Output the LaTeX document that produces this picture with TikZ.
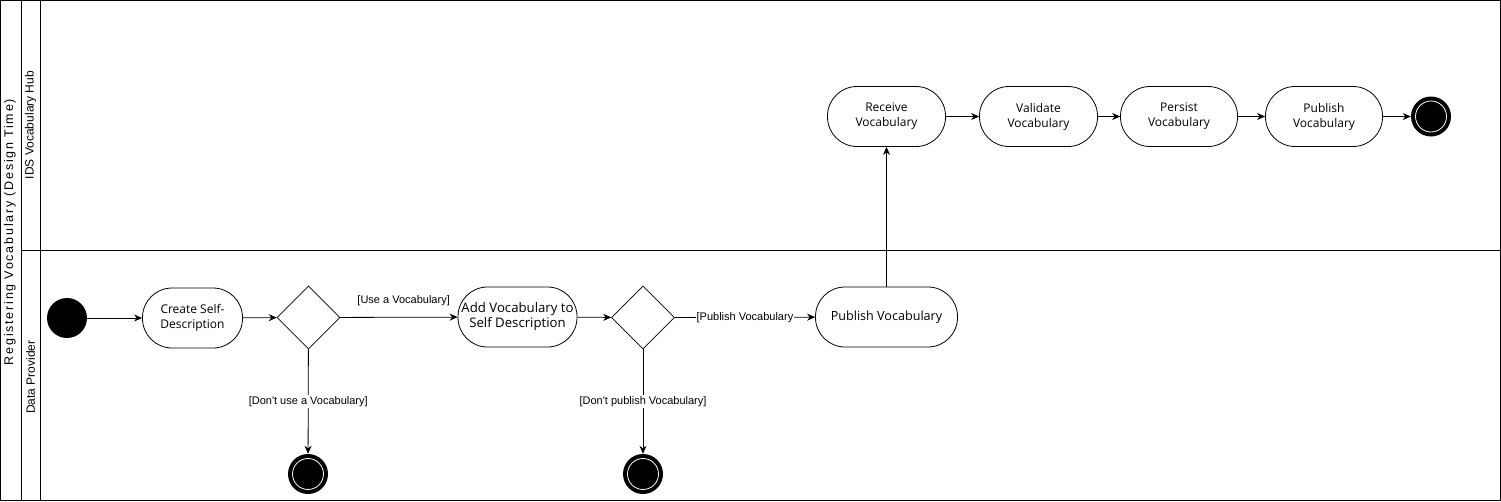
\documentclass[tikz,border=0pt]{standalone}
\usepackage{fontspec}
\setmainfont{Open Sans}
\newfontfamily\lblfont{Liberation Sans}
\newfontfamily\titlefont[LetterSpace=14]{Liberation Sans}
\usetikzlibrary{shapes.geometric,arrows.meta}
\begin{document}
\begin{tikzpicture}[x=1pt,y=-1pt,
  act/.style={draw,rounded corners=29.5pt,minimum height=60pt,align=center,inner sep=1pt,font=\fontsize{12}{15}\selectfont,line width=0.8pt},
  dec/.style={draw,diamond,minimum width=63pt,minimum height=63pt,inner sep=0pt,line width=0.8pt},
  startnode/.style={circle,fill=black,minimum size=40pt,inner sep=0pt},
  endnode/.style={circle,fill=black,minimum size=40pt,inner sep=0pt},
  flow/.style={-{Stealth[length=8pt,width=7pt]},line width=0.8pt},
  glabel/.style={font=\lblfont\fontsize{11}{13}\selectfont,fill=white,inner sep=1pt},
  lanelbl/.style={font=\lblfont\fontsize{12}{14}\selectfont,rotate=90}]
\useasboundingbox (0,0) rectangle (1501,501);
% pool frame
\draw[line width=0.8pt] (0.5,0.5) rectangle (1500.5,500.5);
\draw[line width=0.8pt] (21,0.5) -- (21,500.5);
\draw[line width=0.8pt] (40,0.5) -- (40,500.5);
\draw[line width=0.8pt] (21,250) -- (1500.5,250);
\node[font=\titlefont\fontsize{12.5}{14}\selectfont,rotate=90] (pool) at (10,232) {Registering Vocabulary (Design Time)};
\node[lanelbl] (hub) at (30.5,125) {IDS Vocabulary Hub};
\node[lanelbl] (dp) at (30.5,377) {Data Provider};
% lower lane
\node[startnode] (start) at (67,318) {};
\node[act,minimum width=100pt] (create) at (192.5,318) {Create Self-\\Description};
\node[dec] (d1) at (308.5,317.5) {};
\node[endnode] (e1) at (308,474) {};
\node[act,minimum width=119pt,font=\fontsize{13.2}{15}\selectfont] (add) at (517.5,317) {Add Vocabulary to\\Self Description};
\node[dec] (d2) at (643,317.5) {};
\node[endnode] (e2) at (643,474) {};
\node[act,minimum width=142pt,font=\fontsize{12.6}{15}\selectfont] (pubA) at (886.5,317) {Publish Vocabulary};
% upper lane
\node[act,minimum width=118pt] (recv) at (886.5,116.5) {Receive\\Vocabulary};
\node[act,minimum width=118pt] (valid) at (1038.5,116.5) {Validate\\Vocabulary};
\node[act,minimum width=117pt] (pers) at (1179,116.5) {Persist\\Vocabulary};
\node[act,minimum width=117pt] (pubB) at (1324,116.5) {Publish\\Vocabulary};
\node[endnode] (e3) at (1431,116.5) {};
% end ring decorations
\foreach \n in {e1,e2,e3}{\draw[white,line width=0.8pt] (\n) circle (15.5pt);}
% flows
\draw[flow] (start) -- (create);
\draw[flow] (create) -- (d1);
\draw[flow] (d1) -- node[glabel,pos=0.54,yshift=17pt,fill=none] (lu) {[Use a Vocabulary]} (add);
\draw[flow] (d1) -- node[glabel,pos=0.5] (ld) {[Don't use a Vocabulary]} (e1);
\draw[flow] (add) -- (d2);
\draw[flow] (d2) -- node[glabel,pos=0.5] (lp) {[Publish Vocabulary} (pubA);
\draw[flow] (d2) -- node[glabel,pos=0.5] (ldp) {[Don't publish Vocabulary]} (e2);
\draw[flow] (pubA) -- (recv);
\draw[flow] (recv) -- (valid);
\draw[flow] (valid) -- (pers);
\draw[flow] (pers) -- (pubB);
\draw[flow] (pubB) -- (e3);
\end{tikzpicture}
\end{document}
